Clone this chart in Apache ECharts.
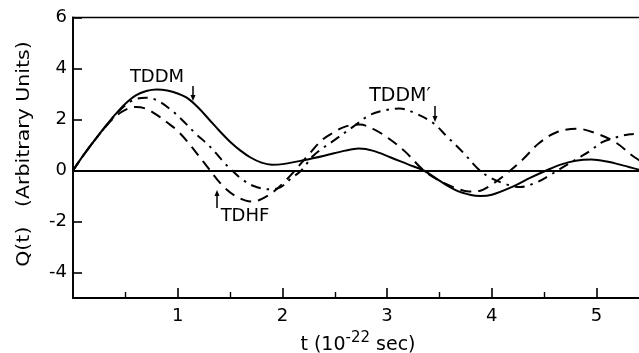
<!DOCTYPE html>
<html>
<head>
<meta charset="utf-8">
<script src="https://cdn.jsdelivr.net/npm/echarts@6/dist/echarts.min.js"></script>
<style>
html,body{margin:0;padding:0;background:#fff;}
#chart{width:639px;height:353px;}
</style>
</head>
<body>
<div id="chart"></div>
<script>
// ---- data (t in 1e-22 sec, Q(t) arbitrary units) ----
var tddm = [
  [0,0],[0.1,0.6],[0.2,1.15],[0.3,1.68],[0.4,2.18],[0.5,2.62],[0.6,2.95],[0.7,3.12],[0.8,3.18],
  [0.9,3.14],[1.0,3.02],[1.1,2.82],[1.2,2.45],[1.3,2.0],[1.4,1.55],[1.5,1.13],[1.6,0.78],
  [1.7,0.5],[1.8,0.31],[1.9,0.23],[2.0,0.25],[2.2,0.4],[2.4,0.58],[2.6,0.78],[2.73,0.86],
  [2.87,0.77],[3.03,0.52],[3.2,0.24],[3.35,0],[3.5,-0.4],[3.66,-0.78],[3.8,-0.96],[3.89,-1.0],
  [4.0,-0.95],[4.2,-0.63],[4.36,-0.3],[4.52,0],[4.65,0.22],[4.8,0.38],[4.95,0.43],[5.1,0.35],
  [5.25,0.2],[5.45,-0.02]
];
var tdhf = [
  [0,0],[0.1,0.6],[0.2,1.15],[0.3,1.66],[0.4,2.1],[0.5,2.38],[0.6,2.49],[0.7,2.42],[0.8,2.18],
  [0.9,1.88],[1.0,1.55],[1.1,1.1],[1.2,0.58],[1.3,0.05],[1.37,-0.32],[1.45,-0.68],[1.55,-1.0],
  [1.65,-1.18],[1.72,-1.22],[1.8,-1.12],[1.9,-0.88],[2.0,-0.52],[2.12,0],[2.25,0.62],[2.38,1.2],
  [2.5,1.52],[2.6,1.72],[2.74,1.8],[2.87,1.62],[3.0,1.3],[3.17,0.75],[3.35,0],[3.5,-0.4],
  [3.65,-0.68],[3.78,-0.82],[3.88,-0.8],[4.0,-0.55],[4.14,-0.12],[4.3,0.45],[4.45,1.07],
  [4.62,1.5],[4.81,1.64],[5.02,1.42],[5.19,1.08],[5.35,0.56],[5.45,0.3]
];
var tddmPrime = [
  [0,0],[0.1,0.6],[0.2,1.15],[0.3,1.67],[0.4,2.16],[0.5,2.56],[0.6,2.8],[0.7,2.85],[0.8,2.76],
  [0.93,2.4],[1.04,1.99],[1.18,1.41],[1.28,1.05],[1.37,0.66],[1.45,0.28],[1.52,0],[1.6,-0.3],
  [1.72,-0.6],[1.88,-0.74],[1.98,-0.66],[2.08,-0.32],[2.18,0],[2.3,0.6],[2.5,1.2],[2.68,1.73],
  [2.84,2.19],[3.0,2.38],[3.12,2.43],[3.28,2.22],[3.44,1.86],[3.57,1.34],[3.73,0.69],[3.86,0.1],
  [3.98,-0.27],[4.13,-0.53],[4.27,-0.65],[4.43,-0.46],[4.54,-0.22],[4.68,0.13],[4.84,0.52],
  [4.94,0.77],[5.05,1.1],[5.18,1.29],[5.32,1.42],[5.45,1.44]
];
var yTicks = [-4,-2,0,2,4,6];
var xTicks = [1,2,3,4,5];

var FONT = 'DejaVu Sans';
var chart = echarts.init(document.getElementById('chart'), null, {renderer:'canvas'});

function arrow(x, y1, y2) {
  var dir = y2 > y1 ? 1 : -1;
  return [
    {type:'line', shape:{x1:x, y1:y1, x2:x, y2:y2 - dir*3}, style:{stroke:'#000', lineWidth:1.5}},
    {type:'polygon', shape:{points:[[x-2.5, y2 - dir*6],[x+2.5, y2 - dir*6],[x, y2]]}, style:{fill:'#000'}}
  ];
}

var lineCommon = {type:'line', showSymbol:false, symbol:'none', smooth:0.35, silent:true};

chart.setOption({
  backgroundColor:'#fff',
  animation:false,
  grid:{left:73, top:17.5, bottom:55, right:-62.2, outerBoundsMode:'none', containLabel:false,
    show:true, borderColor:'#000', borderWidth:1.6, backgroundColor:'transparent'},
  xAxis:{
    type:'value', min:0, max:6, interval:1,
    axisLine:{show:true, onZero:false, lineStyle:{color:'#000', width:1.8}},
    axisTick:{show:true, inside:true, length:10, customValues:xTicks, lineStyle:{color:'#000', width:1.6}},
    minorTick:{show:true, splitNumber:2, length:6, lineStyle:{color:'#000', width:1.4}},
    axisLabel:{customValues:xTicks, color:'#000', fontFamily:FONT, fontSize:18, margin:9},
    splitLine:{show:false}
  },
  yAxis:{
    type:'value', min:-5, max:6,
    axisLine:{show:true, onZero:false, lineStyle:{color:'#000', width:1.8}},
    axisTick:{show:true, inside:true, length:9, customValues:yTicks, lineStyle:{color:'#000', width:1.6}},
    axisLabel:{customValues:yTicks, color:'#000', fontFamily:FONT, fontSize:18, margin:6,
      formatter:function(v){ return v < 0 ? '-' + Math.abs(v) : String(v); }},
    splitLine:{show:false}
  },
  series:[
    Object.assign({}, lineCommon, {name:'TDDM', data:tddm, lineStyle:{color:'#000', width:2},
      markLine:{silent:true, symbol:['none','none'], label:{show:false},
        lineStyle:{color:'#000', width:1.8, type:'solid'}, data:[{yAxis:0}]}}),
    Object.assign({}, lineCommon, {name:'TDHF', data:tdhf, lineStyle:{color:'#000', width:2, type:[11,7]}}),
    Object.assign({}, lineCommon, {name:"TDDM'", data:tddmPrime, lineStyle:{color:'#000', width:2, type:[10,6,2.5,6]}})
  ],
  graphic:[
    {type:'text', x:24, y:154, rotation:Math.PI/2, scaleX:1.14,
      style:{text:'Q(t)   (Arbitrary Units)', fontFamily:FONT, fontSize:18, fill:'#000', align:'center', verticalAlign:'middle'}},
    {type:'text', x:358, y:343,
      style:{text:'{a|t (10}{b|-22}{a| sec)}', align:'center', verticalAlign:'middle',
        rich:{a:{fontFamily:FONT, fontSize:19, fill:'#000', color:'#000', verticalAlign:'bottom', lineHeight:24},
              b:{fontFamily:FONT, fontSize:15, fill:'#000', color:'#000', verticalAlign:'top', lineHeight:24}}}},
    {type:'text', x:157, y:77, style:{text:'TDDM', fontFamily:FONT, fontSize:18, fill:'#000', align:'center', verticalAlign:'middle'}},
    {type:'text', x:245, y:216, style:{text:'TDHF', fontFamily:FONT, fontSize:18, fill:'#000', align:'center', verticalAlign:'middle'}},
    {type:'text', x:400, y:96, style:{text:'TDDM\u2032', fontFamily:FONT, fontSize:19, fill:'#000', align:'center', verticalAlign:'middle'}}
  ].concat(arrow(193, 86, 101), arrow(217, 208, 190), arrow(435, 106, 122))
});
</script>
</body>
</html>
